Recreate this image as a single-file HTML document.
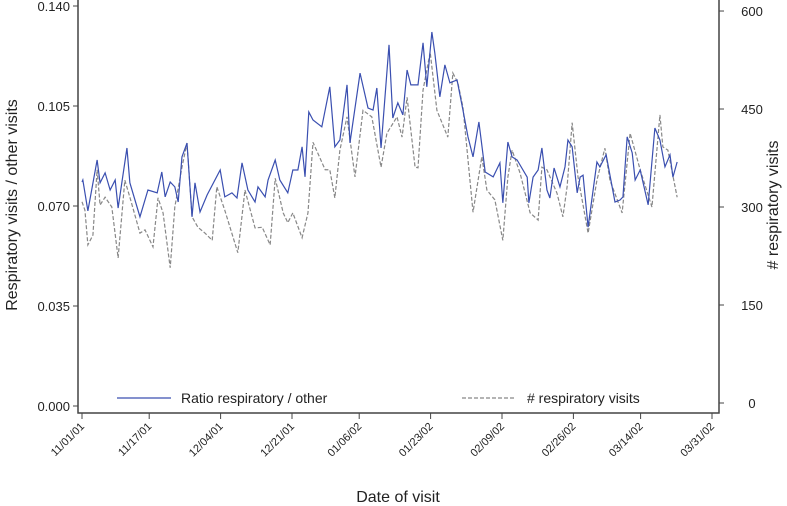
<!DOCTYPE html>
<html><head><meta charset="utf-8"><style>
body{margin:0;background:#fff;}
svg{display:block;font-family:"Liberation Sans",sans-serif;}
</style></head><body>
<svg id="chart" width="787" height="506">
</svg>
<script>
const ratioDays=[0,0.2,1.4,3.6,4.3,5.5,6.7,7.9,8.6,10.7,11.4,13.8,15.7,17.9,19.0,19.8,21.0,22.1,22.9,23.8,25.0,26.2,26.9,28.1,29.8,32.9,34.0,35.7,36.9,38.1,39.5,41.2,41.9,43.6,44.3,46.0,47.1,49.0,50.2,51.4,52.4,53.1,54.0,55.0,57.1,59.0,60.2,61.4,63.1,63.8,66.2,68.1,69.3,70.2,71.2,73.1,74.0,75.2,76.4,77.4,78.3,80.0,81.2,82.1,83.3,84.0,85.2,86.4,87.6,89.3,90.7,91.9,93.1,94.5,96.0,97.9,99.5,100.2,101.4,102.4,103.6,106.0,106.4,107.4,108.6,109.5,110.7,111.4,112.4,113.8,115.0,115.7,116.7,117.9,118.6,119.3,120.5,122.6,123.3,124.8,126.9,128.1,128.8,129.8,131.0,131.7,132.9,134.8,136.4,137.6,138.8,140.0,140.7,141.7];
const ratioValues=[.0784,.0791,.0683,.0861,.0781,.0816,.0756,.0791,.0693,.0903,.0781,.0662,.0756,.0746,.0819,.0732,.0784,.0767,.0714,.0872,.0920,.0662,.0781,.0679,.0739,.0826,.0732,.0746,.0728,.0851,.0756,.0714,.0767,.0732,.0791,.0861,.0791,.0746,.0826,.0826,.0907,.0802,.1029,.1001,.0977,.1117,.0907,.0931,.1124,.0921,.1165,.1043,.1036,.1113,.0903,.1264,.1008,.1061,.1019,.1176,.1124,.1124,.1271,.1117,.1309,.1236,.1082,.1194,.1131,.1141,.1036,.0942,.0872,.0994,.0819,.0802,.0851,.0711,.0924,.0872,.0861,.0801,.0711,.0801,.0826,.0903,.0756,.0728,.0833,.0767,.0837,.0931,.0907,.0746,.0801,.0808,.0626,.0854,.0837,.0879,.0714,.0721,.0732,.0942,.0886,.0791,.0826,.0704,.0973,.0931,.0837,.0879,.0801,.0854];
const countDays=[0,0.7,1.4,2.6,3.6,4.3,5.5,7.1,8.6,10.2,11.4,13.8,15.0,16.9,18.1,19.3,21.0,22.1,23.8,25.0,26.2,27.6,29.3,31.0,32.1,34.0,37.1,38.8,41.2,42.9,44.8,46.0,47.9,49.0,50.2,52.4,53.8,55.0,57.9,59.0,60.2,61.4,63.1,65.0,66.9,69.0,71.2,72.6,75.0,76.2,77.4,79.3,80.0,81.2,82.9,84.5,87.1,88.3,89.5,90.7,93.1,95.2,96.4,98.3,100.2,101.4,102.4,104.3,106.7,108.6,109.5,110.7,113.1,114.5,115.5,116.7,118.1,120.5,122.6,124.5,125.7,128.6,130.5,132.9,135.7,137.6,138.3,139.5,141.7];
const countValues=[308,295,242,257,357,303,315,300,222,341,315,260,265,239,314,291,207,300,361,398,285,269,260,249,331,295,230,326,268,269,242,344,291,276,291,253,291,399,357,357,314,387,438,346,448,438,361,413,438,407,468,361,360,479,537,448,407,505,490,453,292,377,326,311,249,346,387,352,291,280,361,357,321,285,331,429,346,260,341,390,341,291,413,357,300,441,392,387,315];
const leftTicks=[0.000,0.035,0.070,0.105,0.140];
const leftTickLabels=["0.000","0.035","0.070","0.105","0.140"];
const rightTicks=[0,150,300,450,600];
const xTickDays=[0,16,33,50,66,83,100,117,133,150];
const xTickLabels=["11/01/01","11/17/01","12/04/01","12/21/01","01/06/02","01/23/02","02/09/02","02/26/02","03/14/02","03/31/02"];

const NS="http://www.w3.org/2000/svg";
const svg=document.getElementById('chart');
const L=78,R=719,B=413;
const xS=d=>82+d*4.2;
const yL=v=>406-v/0.140*400;
const yR=v=>403-v*0.6533;
function mk(tag,attrs,parent){const e=document.createElementNS(NS,tag);for(const k in attrs)e.setAttribute(k,attrs[k]);(parent||svg).appendChild(e);return e;}

let ax=mk('path',{d:`M${L},0V${B}H${R}V0`,fill:'none',stroke:'#444','stroke-width':1.5});



leftTicks.forEach((v,i)=>{
  const y=yL(v);
  const t=mk('line',{x1:L-5,x2:L,y1:y,y2:y,stroke:'#444'});
  
  
  const tx=mk('text',{x:L-8,y:y+5,'text-anchor':'end','font-size':13,fill:'#222'});
  tx.textContent=leftTickLabels[i];
  
  
});
rightTicks.forEach(v=>{
  const y=yR(v);
  const t=mk('line',{x1:R,x2:R+5,y1:y,y2:y,stroke:'#444'});
  
  
  const tx=mk('text',{x:R+33,y:y+5,'text-anchor':'middle','font-size':13,fill:'#222'});
  tx.textContent=String(v);
  
  
});
xTickDays.forEach((d,i)=>{
  const x=xS(d);
  const t=mk('line',{x1:x,x2:x,y1:B,y2:B+6,stroke:'#444'});
  
  
  const tx=mk('text',{x:x+3,y:B+14,'text-anchor':'end','font-size':11,fill:'#222',transform:`rotate(-45 ${x+3} ${B+14})`});
  tx.textContent=xTickLabels[i];
  
  
});

let cp=mk('polyline',{points:countDays.map((d,i)=>xS(d)+','+yR(countValues[i])).join(' '),fill:'none',stroke:'#888','stroke-width':1.2,'stroke-dasharray':'4,2'});


let rp=mk('polyline',{points:ratioDays.map((d,i)=>xS(d)+','+yL(ratioValues[i])).join(' '),fill:'none',stroke:'#3a4fb0','stroke-width':1.2});



let l1=mk('line',{x1:117,x2:171,y1:398,y2:398,stroke:'#3a4fb0','stroke-width':1.2});


let t1=mk('text',{x:181,y:403,'font-size':14,fill:'#222'});t1.textContent='Ratio respiratory / other';


let l2=mk('line',{x1:462,x2:516,y1:398,y2:398,stroke:'#888','stroke-width':1.2,'stroke-dasharray':'4,2'});


let t2=mk('text',{x:527,y:403,'font-size':14,fill:'#222'});t2.textContent='# respiratory visits';



let yt=mk('text',{x:17,y:205,'text-anchor':'middle','font-size':16,fill:'#222',transform:'rotate(-90 17 205)'});
yt.textContent='Respiratory visits / other visits';


let yt2=mk('text',{x:778,y:205,'text-anchor':'middle','font-size':16,fill:'#222',transform:'rotate(-90 778 205)'});
yt2.textContent='# respiratory visits';


let xt=mk('text',{x:398,y:502,'text-anchor':'middle','font-size':16,fill:'#222'});
xt.textContent='Date of visit';


</script>
</body></html>
